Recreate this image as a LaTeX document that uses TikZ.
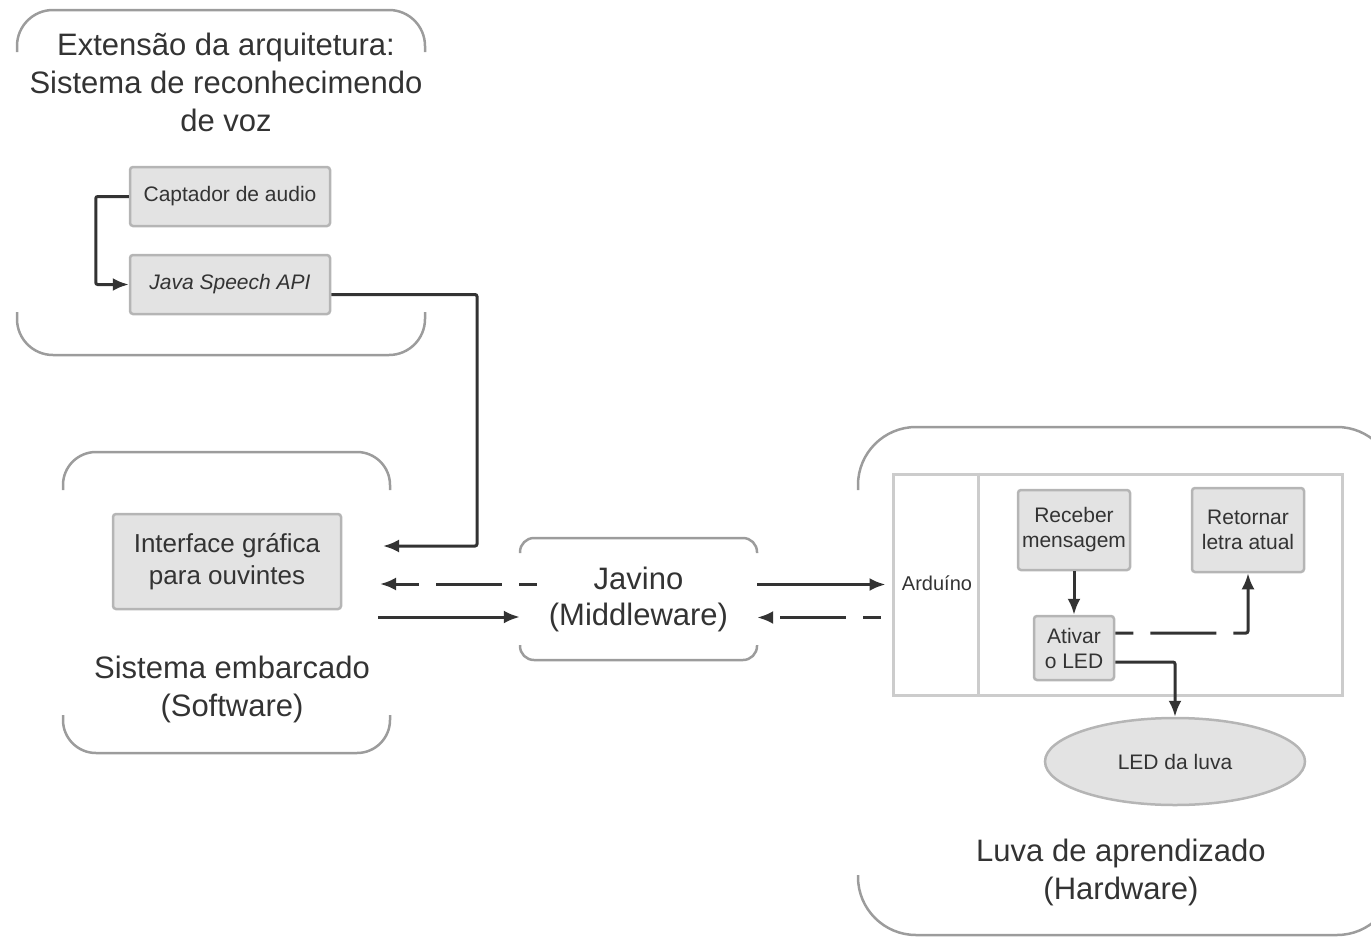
\documentclass[tikz,border=0pt]{standalone}
\usepackage{fontspec}
\setmainfont{Liberation Sans}
\usetikzlibrary{arrows.meta,shapes.geometric}
\definecolor{txt}{HTML}{333333}
\definecolor{frame}{HTML}{9C9C9C}
\definecolor{boxfill}{HTML}{E3E3E3}
\definecolor{boxline}{HTML}{B5B5B5}
\definecolor{arduline}{HTML}{CCCCCC}
\tikzset{
  bloco/.style={draw=boxline, fill=boxfill, line width=2.5pt, rounded corners=3pt,
    text=txt, align=center, font=\fontsize{21}{25}\selectfont, inner sep=0pt},
  moldura/.style={draw=frame, line width=2.5pt},
  titulo/.style={text=txt, align=center, font=\fontsize{31}{38}\selectfont},
  seta/.style={->, draw=txt, line width=3pt, rounded corners=2pt},
  tracejada/.style={seta, dash pattern=on 66pt off 17pt, dash phase=48pt},
}
\begin{document}
\begin{tikzpicture}[x=1pt,y=-1pt,>={Latex[length=16pt,width=13pt]}]
\useasboundingbox (0,0) rectangle (1371,937);
% molduras (abertas dos lados)
\draw[moldura, rounded corners=36] (17,52) |- (425,10) -- (425,52);
\draw[moldura, rounded corners=36] (17,312) |- (425,355) -- (425,312);
\draw[moldura, rounded corners=33] (63,490) |- (390,452) -- (390,490);
\draw[moldura, rounded corners=33] (63,715) |- (390,753) -- (390,715);
\draw[moldura, rounded corners=14] (520,553) |- (757,538) -- (757,553);
\draw[moldura, rounded corners=14] (520,645) |- (757,660) -- (757,645);
\draw[moldura, rounded corners=58] (858,490) |- (1395,427) -- (1395,490);
\draw[moldura, rounded corners=58] (858,875) |- (1395,935) -- (1395,875);

% reconhecimento de voz
\node[titulo] (tit_voz) at (226,82) {Extensão da arquitetura:\\Sistema de reconhecimendo\\de voz};
\node[bloco, minimum width=200, minimum height=59] (captador) at (230,196.5) {Captador de audio};
\node[bloco, minimum width=200, minimum height=59, font=\fontsize{21}{25}\selectfont\itshape] (java) at (230,284.5) {Java Speech API};

% software
\node[bloco, minimum width=228, minimum height=95, font=\fontsize{26}{32}\selectfont] (iface) at (227,561.5) {Interface gráfica\\para ouvintes};
\node[titulo] (tit_soft) at (232,689) {Sistema embarcado\\(Software)};

% middleware
\node[titulo, font=\fontsize{31}{36}\selectfont, minimum width=237, minimum height=122] (javino) at (638.5,599) {Javino\\(Middleware)};

% hardware
\node[draw=arduline, line width=3pt, minimum width=449, minimum height=221] (ardu) at (1117.5,584.5) {};
\draw[draw=arduline, line width=3pt] ([xshift=87pt]ardu.north west) -- ([xshift=87pt]ardu.south west);
\node[text=txt, font=\fontsize{20}{24}\selectfont] (arduino) at (937,583) {Arduíno};
\node[bloco, minimum width=112, minimum height=80] (receber) at (1074,530) {Receber\\mensagem};
\node[bloco, minimum width=112, minimum height=84] (retornar) at (1248,530) {Retornar\\letra atual};
\node[bloco, minimum width=80, minimum height=64] (ativar) at (1074,648) {Ativar\\o LED};
\node[bloco, ellipse, rounded corners=0pt, minimum width=260, minimum height=87] (led) at (1175,761.5) {LED da luva};
\node[titulo] (tit_hard) at (1121,872) {Luva de aprendizado\\(Hardware)};

% pontos soltos
\coordinate (canto) at (477,546);
\coordinate (entrada) at (383,546);
\coordinate (volta) at (380,584);
\coordinate (ida) at (378,617);

% conexoes
\draw[seta] (captador.west) -- ++(-33,0) |- (java.west);
\draw[seta] ([yshift=-10pt]java.east) -| (canto) -- (entrada);
\draw[tracejada] ([xshift=17pt,yshift=15pt]javino.west) -- (volta);
\draw[seta, rounded corners=0pt] (ida) -- ([yshift=-18pt]javino.west);
\draw[seta, rounded corners=0pt] (javino.east |- ardu.west) -- ([xshift=-6pt]ardu.west);
\draw[tracejada] ([xshift=-11pt,yshift=-33pt]ardu.west) -- ([yshift=-18.5pt]javino.east);
\draw[seta] (receber) -- (ativar);
\draw[tracejada] ([yshift=15pt]ativar.east) -| (retornar.south);
\draw[seta] ([yshift=-14pt]ativar.east) -| (led.north);
\end{tikzpicture}
\end{document}
